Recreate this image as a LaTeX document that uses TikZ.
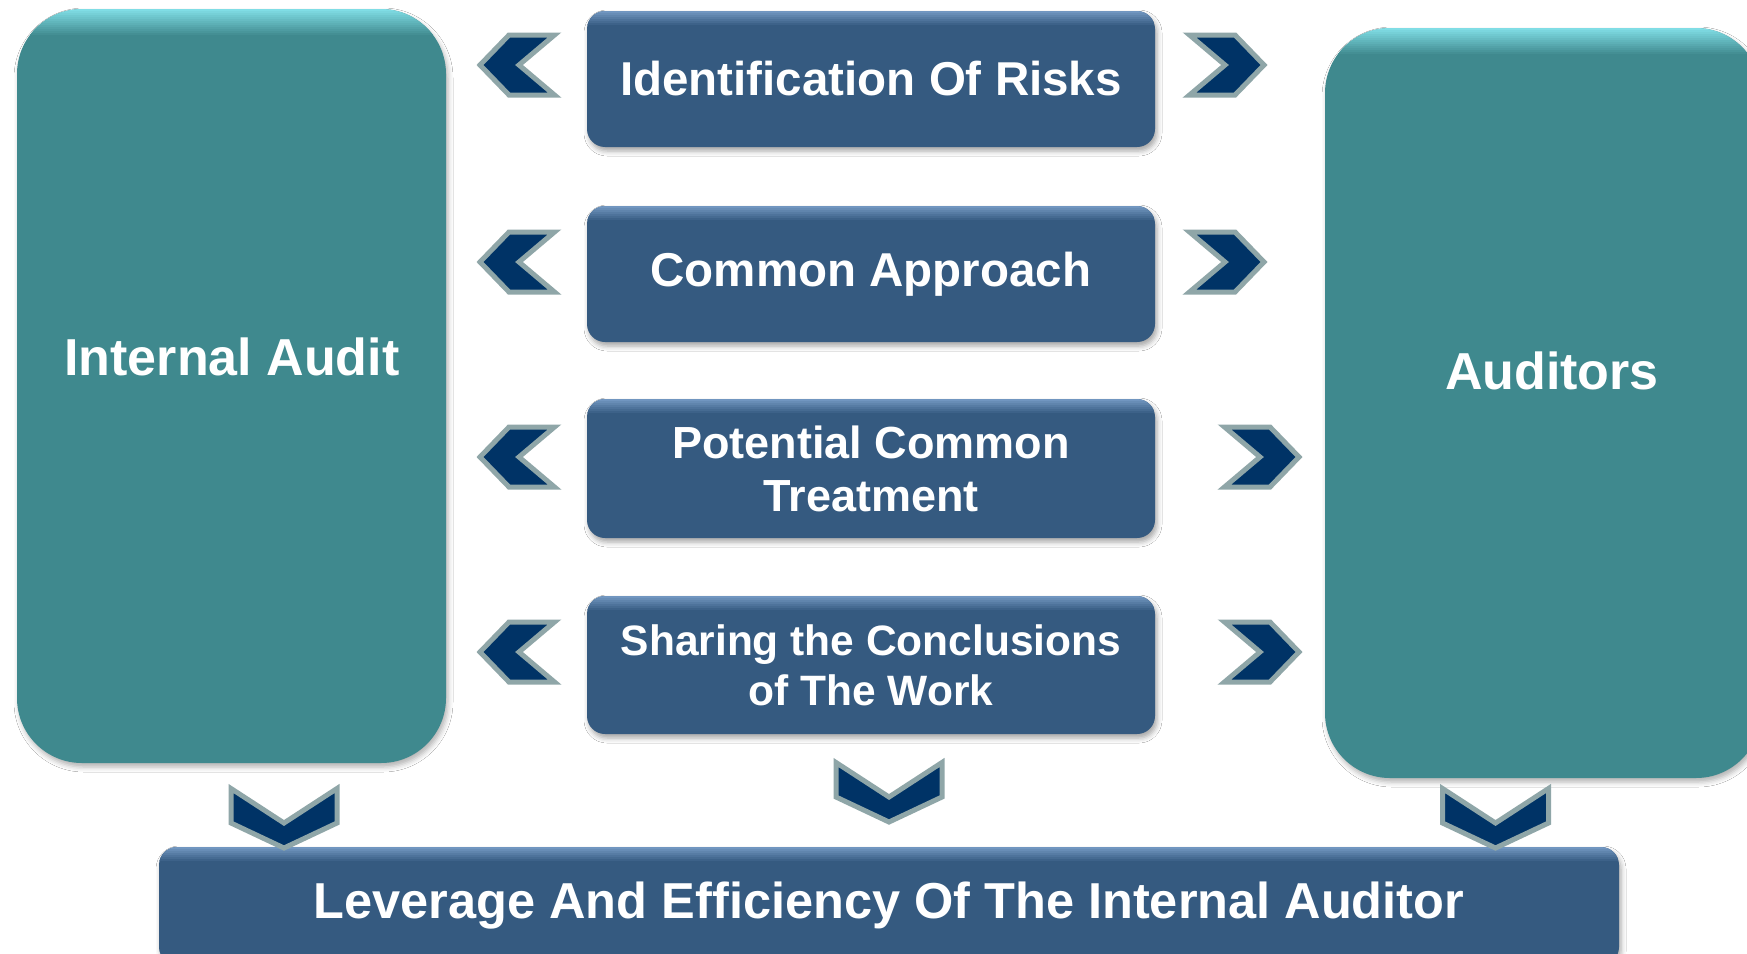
\documentclass[tikz,border=0pt]{standalone}
\usepackage{fontspec}
\setmainfont{Liberation Sans}
\usetikzlibrary{shadows.blur}
\definecolor{teal1}{HTML}{3F898E}
\definecolor{tealhi}{HTML}{80DDE5}
\definecolor{boxblue}{HTML}{355A80}
\definecolor{boxhi}{HTML}{7196C0}
\definecolor{navy}{HTML}{003366}
\definecolor{chevgray}{HTML}{8FA6A8}
\newcommand{\topglow}[3]{% #1 light colour, #2 base colour, #3 number of 2pt steps
  \foreach \i in {1,...,#3}{%
    \pgfmathtruncatemacro{\pc}{100-100*(\i-1)/#3}%
    \fill[sharp corners, #1!\pc!#2] ([yshift=-2*\i+2]path picture bounding box.north west) rectangle ([yshift=-2*\i-0.3]path picture bounding box.north east);
  }}
\tikzset{
  sidebox/.style={rounded corners=65pt, fill=teal1, minimum width=429pt, minimum height=754pt, inner sep=0pt,
    blur shadow={shadow xshift=2pt, shadow yshift=-4pt, shadow blur radius=5pt, shadow opacity=30},
    path picture={\topglow{tealhi}{teal1}{13}}},
  cbox/.style={rounded corners=18pt, fill=boxblue, minimum width=568pt, minimum height=136pt, inner sep=0pt,
    text=white, align=center,
    blur shadow={shadow xshift=2pt, shadow yshift=-4pt, shadow blur radius=5pt, shadow opacity=35},
    path picture={\topglow{boxhi}{boxblue}{7}}},
  lbl/.style={text=white, align=center, inner sep=0pt},
  chev/.style={fill=navy, draw=chevgray, line width=5pt, line join=miter},
  pics/chevr/.style={code={\path[chev] (-37.5,-30) -- (8,-30) -- (37,0) -- (8,30) -- (-37.5,30) -- (-2,0) -- cycle;}},
  pics/chevl/.style={code={\path[chev] (37.5,-30) -- (-8,-30) -- (-37,0) -- (-8,30) -- (37.5,30) -- (2,0) -- cycle;}},
  pics/chevd/.style={code={\path[chev] (-53,-29.5) -- (0,5) -- (53,-29.5) -- (53,5) -- (0,30) -- (-53,5) -- cycle;}},
}
\begin{document}
\begin{tikzpicture}[x=1pt,y=-1pt]
\useasboundingbox (0,0) rectangle (1747,953);
\clip (0,0) rectangle (1747,953);
\fill[white] (0,0) rectangle (1747,953);

% side boxes
\node[sidebox] (ia) at (231.5,386) {};
\node[lbl, font=\bfseries\fontsize{52}{58}\selectfont] (iat) at (232,357) {Internal Audit};
\node[sidebox, minimum width=436pt, minimum height=750pt] (au) at (1543,403) {};
\node[lbl, font=\bfseries\fontsize{52}{58}\selectfont] (aut) at (1552,371) {Auditors};

% centre boxes
\node[cbox, font=\bfseries\fontsize{47.5}{53}\selectfont] (b1) at (871,79) {Identification Of Risks};
\node[cbox, font=\bfseries\fontsize{47.5}{53}\selectfont] (b2) at (871,274) {Common Approach};
\node[cbox, minimum height=139pt, font=\bfseries\fontsize{45}{53}\selectfont] (b3) at (871,468.5) {Potential Common\\Treatment};
\node[cbox, minimum height=138pt, font=\bfseries\fontsize{42.5}{50}\selectfont] (b4) at (871,665) {Sharing the Conclusions\\of The Work};

% bottom box
\node[cbox, minimum width=1460pt, minimum height=118pt, font=\bfseries\fontsize{50.5}{56}\selectfont] (bot) at (889,906) {Leverage And Efficiency Of The Internal Auditor};

% chevrons left
\pic at (517,65) {chevl};
\pic at (517,262) {chevl};
\pic at (517,457) {chevl};
\pic at (517,652) {chevl};
% chevrons right
\pic at (1227,65) {chevr};
\pic at (1227,262) {chevr};
\pic at (1262,457) {chevr};
\pic at (1262,652) {chevr};
% chevrons down
\pic at (284,818) {chevd};
\pic at (889,792) {chevd};
\pic at (1495.5,818) {chevd};
\end{tikzpicture}
\end{document}
